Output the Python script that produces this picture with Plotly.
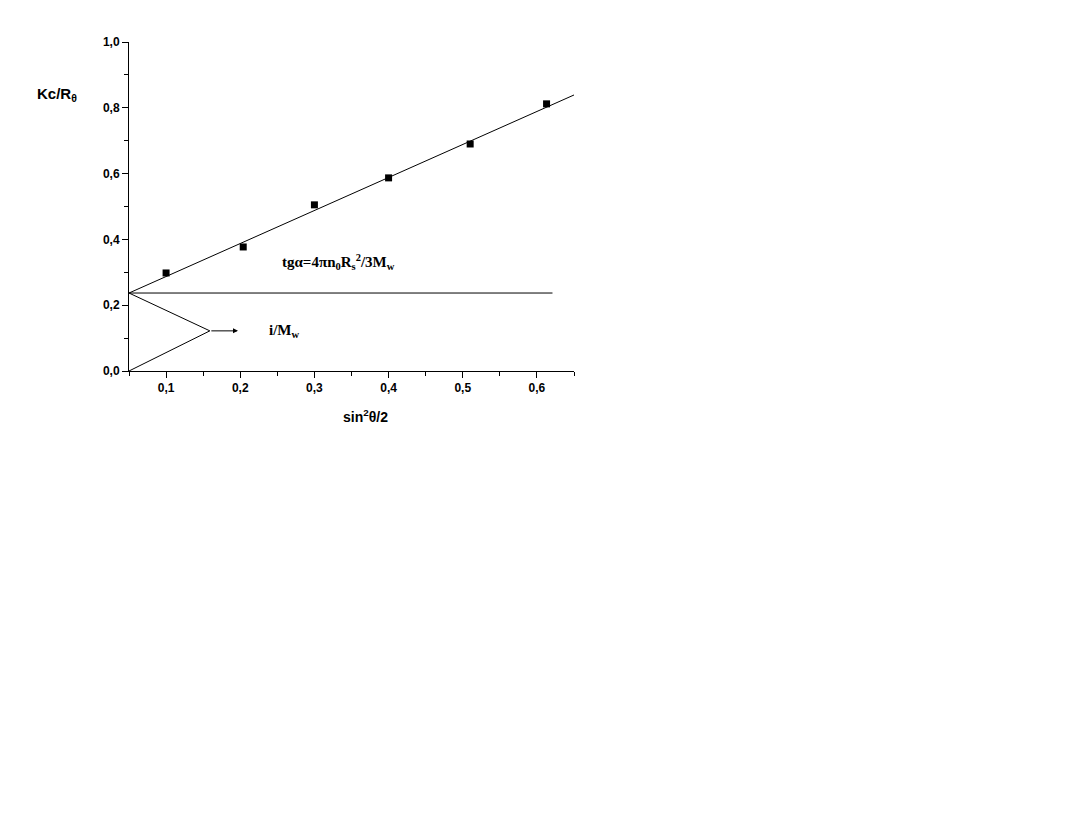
import plotly.graph_objects as go

# Data
x_pts = [0.10, 0.204, 0.30, 0.40, 0.51, 0.613]
y_pts = [0.298, 0.377, 0.505, 0.587, 0.690, 0.812]

fit_x = [0.05, 0.65]
fit_y = [0.237, 0.839]

horiz_x = [0.05, 0.621]
horiz_y = [0.237, 0.237]

wedge_x = [0.05, 0.159, 0.05]
wedge_y = [0.237, 0.122, 0.0]

arrow_start = (0.159, 0.122)
arrow_end = (0.197, 0.122)

x_ticks = [0.1, 0.2, 0.3, 0.4, 0.5, 0.6]
x_minor = [0.05, 0.15, 0.25, 0.35, 0.45, 0.55, 0.65]
y_ticks = [0.0, 0.2, 0.4, 0.6, 0.8, 1.0]
y_minor = [0.1, 0.3, 0.5, 0.7, 0.9]

fig = go.Figure()

fig.add_trace(go.Scatter(x=fit_x, y=fit_y, mode="lines",
                         line=dict(color="black", width=1), showlegend=False))
fig.add_trace(go.Scatter(x=horiz_x, y=horiz_y, mode="lines",
                         line=dict(color="black", width=1), showlegend=False))
fig.add_trace(go.Scatter(x=wedge_x, y=wedge_y, mode="lines",
                         line=dict(color="black", width=1), showlegend=False))
fig.add_trace(go.Scatter(x=x_pts, y=y_pts, mode="markers",
                         marker=dict(symbol="square", size=7, color="black"),
                         showlegend=False))

fig.add_annotation(x=arrow_end[0], y=arrow_end[1], ax=arrow_start[0], ay=arrow_start[1],
                   xref="x", yref="y", axref="x", ayref="y", text="",
                   showarrow=True, arrowhead=2, arrowsize=1, arrowwidth=1, arrowcolor="black")

fig.add_annotation(x=0.253, y=0.331, xref="x", yref="y", xanchor="left", yanchor="middle",
                   text="<b>tgα=4πn<sub>0</sub>R<sub>s</sub><sup>2</sup>/3M<sub>w</sub></b>",
                   showarrow=False,
                   font=dict(family="Liberation Serif", size=15, color="black"))
fig.add_annotation(x=0.236, y=0.122, xref="x", yref="y", xanchor="left", yanchor="middle",
                   text="<b>i/M<sub>w</sub></b>", showarrow=False,
                   font=dict(family="Liberation Serif", size=15, color="black"))

fig.add_annotation(x=-0.211, y=0.839, xref="paper", yref="paper", xanchor="left", yanchor="middle",
                   text="<b>Kc/R<sub>θ</sub></b>", showarrow=False,
                   font=dict(family="Liberation Sans", size=15, color="black"))
fig.add_annotation(x=0.532, y=-0.137, xref="paper", yref="paper", xanchor="center", yanchor="middle",
                   text="<b>sin<sup>2</sup>θ/2</b>", showarrow=False,
                   font=dict(family="Liberation Sans", size=14, color="black"))

fig.update_layout(
    width=1069, height=814,
    margin=dict(l=121, r=503, t=34, b=451, autoexpand=False),
    paper_bgcolor="white", plot_bgcolor="white",
    separators=",.",
    font=dict(family="Liberation Sans", color="black"),
)

fig.update_xaxes(range=[0.05, 0.65], tickvals=x_ticks, tickformat=".1f",
                 ticks="outside", ticklen=6, tickcolor="black", tickwidth=1,
                 showline=True, linecolor="black", linewidth=1, showgrid=False, zeroline=False,
                 tickfont=dict(family="Liberation Sans", size=12, color="black", weight="bold"),
                 minor=dict(tickvals=x_minor, ticks="outside", ticklen=4,
                            tickcolor="black", showgrid=False))
fig.update_yaxes(range=[0.0, 1.0], tickvals=y_ticks, tickformat=".1f",
                 ticks="outside", ticklen=6, tickcolor="black", tickwidth=1,
                 showline=True, linecolor="black", linewidth=1, showgrid=False, zeroline=False,
                 tickfont=dict(family="Liberation Sans", size=12, color="black", weight="bold"),
                 minor=dict(tickvals=y_minor, ticks="outside", ticklen=4,
                            tickcolor="black", showgrid=False))

fig.write_html("out.html")
